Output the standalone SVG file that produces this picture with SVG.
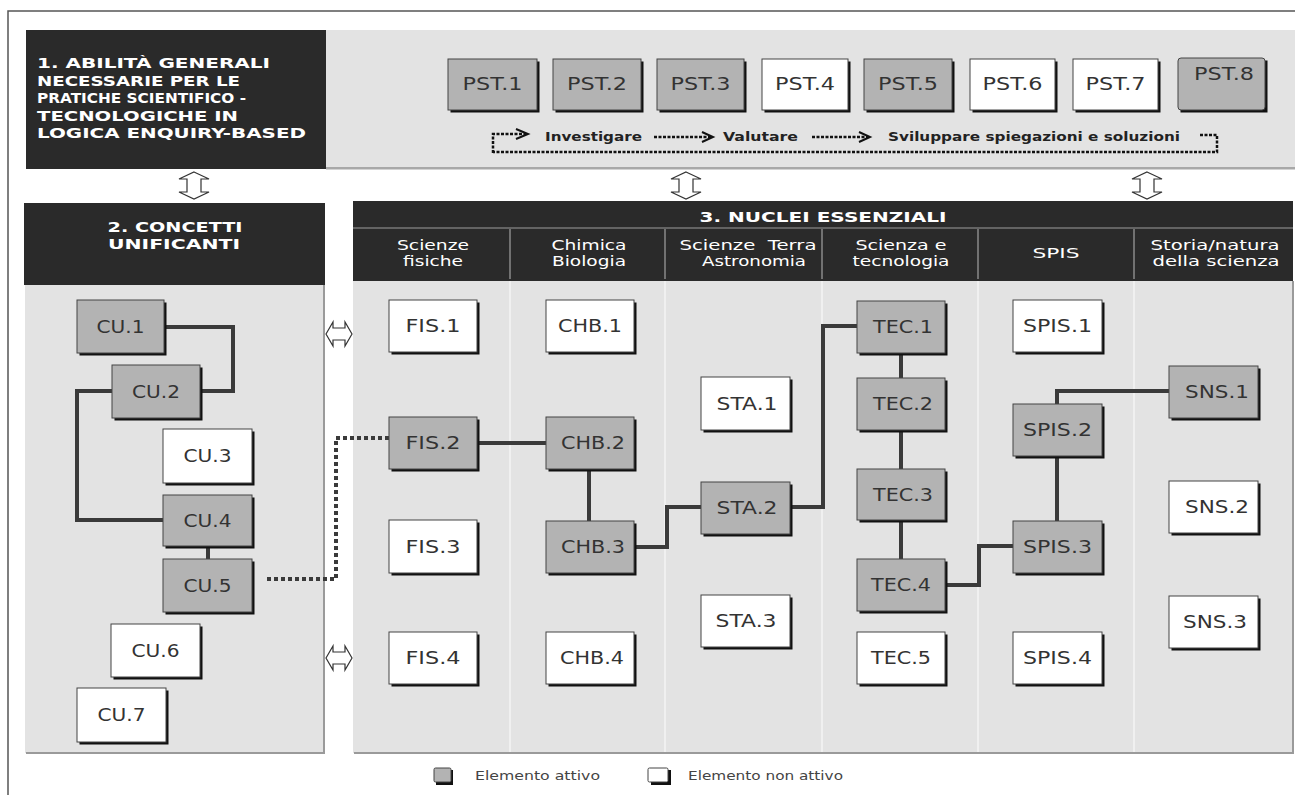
<svg xmlns="http://www.w3.org/2000/svg" width="1295" height="795" viewBox="0 0 1295 795">
<style>
.frame{stroke:#555;stroke-width:1.5;fill:none}
.dark{fill:#2a2a2a}
.panel{fill:#e3e3e3}
.hd{font-family:"DejaVu Sans",Verdana,sans-serif;font-weight:bold;fill:#fff;font-size:14.5px}
.sub{font-family:"DejaVu Sans",Verdana,sans-serif;fill:#fff;font-size:14px;text-anchor:middle}
.flow{font-family:"DejaVu Sans",Verdana,sans-serif;font-weight:bold;fill:#222;font-size:13px}
.leg{font-family:"DejaVu Sans",Verdana,sans-serif;fill:#444;font-size:11.5px}
.sh{fill:#111}
.a{fill:#b3b3b3;stroke:#444;stroke-width:1}
.i{fill:#fff;stroke:#444;stroke-width:1}
.lbl{font-family:"DejaVu Sans",Verdana,sans-serif;fill:#333;font-size:17px;text-anchor:middle}
.con{fill:none;stroke:#3a3a3a;stroke-width:4}
.dot{fill:none;stroke:#3a3a3a;stroke-width:4;stroke-dasharray:4 3}
.fl{fill:none;stroke:#111;stroke-width:2.5;stroke-dasharray:3 1.5}
.dbl{fill:#fff;stroke:#333;stroke-width:1.2}
.colb{stroke:#f4f4f4;stroke-width:1.5}
.colh{stroke:#8a8a8a;stroke-width:1.5}
</style>

<!-- outer frame -->
<path class="frame" d="M8,795 V11 H1295"/>

<!-- section 1 -->
<g id="sec1">
<rect class="panel" x="326" y="30" width="969" height="138"/>
<rect x="326" y="167" width="969" height="2.5" fill="#a8a8a8"/>
<rect class="dark" x="26" y="30" width="300" height="139"/>
<text class="hd" x="37" y="68" textLength="233" lengthAdjust="spacingAndGlyphs">1. ABILITÀ GENERALI</text>
<text class="hd" x="37" y="85.5" textLength="203" lengthAdjust="spacingAndGlyphs">NECESSARIE PER LE</text>
<text class="hd" x="37" y="103" textLength="209" lengthAdjust="spacingAndGlyphs">PRATICHE SCIENTIFICO -</text>
<text class="hd" x="37" y="120.5" textLength="201" lengthAdjust="spacingAndGlyphs">TECNOLOGICHE IN</text>
<text class="hd" x="37" y="138" textLength="269" lengthAdjust="spacingAndGlyphs">LOGICA ENQUIRY-BASED</text>
</g>

<!-- flow line -->
<g id="flow">
<path class="fl" d="M493,153 V134 H526"/>
<path d="M516,129 L528,134 L516,139" fill="none" stroke="#111" stroke-width="2"/>
<text class="flow" x="545" y="141" textLength="97" lengthAdjust="spacingAndGlyphs">Investigare</text>
<path class="fl" d="M654,137 H711"/>
<path d="M702,132 L713,137 L702,142" fill="none" stroke="#111" stroke-width="2"/>
<text class="flow" x="723" y="141" textLength="75" lengthAdjust="spacingAndGlyphs">Valutare</text>
<path class="fl" d="M812,137 H868"/>
<path d="M859,132 L870,137 L859,142" fill="none" stroke="#111" stroke-width="2"/>
<text class="flow" x="888" y="141" textLength="292" lengthAdjust="spacingAndGlyphs">Sviluppare spiegazioni e soluzioni</text>
<path class="fl" d="M1200,135 H1217 V152 H493"/>
</g>

<!-- section 2 -->
<g id="sec2">
<rect class="panel" x="25" y="285" width="299" height="468"/>
<path d="M324,285 V753 H26" fill="none" stroke="#9a9a9a" stroke-width="2"/>
<rect class="dark" x="24" y="203" width="301" height="82"/>
<text class="hd" x="175" y="232" text-anchor="middle" textLength="135" lengthAdjust="spacingAndGlyphs">2. CONCETTI</text>
<text class="hd" x="174" y="249" text-anchor="middle" textLength="132" lengthAdjust="spacingAndGlyphs">UNIFICANTI</text>
</g>

<!-- section 3 -->
<g id="sec3">
<rect class="panel" x="353" y="281" width="940" height="472"/>
<path d="M1293,281 V753 H354" fill="none" stroke="#9a9a9a" stroke-width="2"/>
<line class="colb" x1="510" y1="281" x2="510" y2="752"/>
<line class="colb" x1="665" y1="281" x2="665" y2="752"/>
<line class="colb" x1="822" y1="281" x2="822" y2="752"/>
<line class="colb" x1="978" y1="281" x2="978" y2="752"/>
<line class="colb" x1="1134" y1="281" x2="1134" y2="752"/>
<rect class="dark" x="353" y="201" width="940" height="80"/>
<line x1="353" y1="228" x2="1293" y2="228" stroke="#777" stroke-width="1.5"/>
<line class="colh" x1="510" y1="229" x2="510" y2="279"/>
<line class="colh" x1="665" y1="229" x2="665" y2="279"/>
<line class="colh" x1="822" y1="229" x2="822" y2="279"/>
<line class="colh" x1="978" y1="229" x2="978" y2="279"/>
<line class="colh" x1="1134" y1="229" x2="1134" y2="279"/>
<text class="hd" x="823" y="222" text-anchor="middle" textLength="247" lengthAdjust="spacingAndGlyphs">3. NUCLEI ESSENZIALI</text>
<text class="sub" x="433" y="250" textLength="72" lengthAdjust="spacingAndGlyphs">Scienze</text>
<text class="sub" x="433" y="266" textLength="60" lengthAdjust="spacingAndGlyphs">fisiche</text>
<text class="sub" x="589" y="250" textLength="75" lengthAdjust="spacingAndGlyphs">Chimica</text>
<text class="sub" x="589" y="266" textLength="74" lengthAdjust="spacingAndGlyphs">Biologia</text>
<text class="sub" x="748" y="250" textLength="137" lengthAdjust="spacingAndGlyphs" xml:space="preserve">Scienze  Terra</text>
<text class="sub" x="754" y="266" textLength="104" lengthAdjust="spacingAndGlyphs">Astronomia</text>
<text class="sub" x="901" y="250" textLength="91" lengthAdjust="spacingAndGlyphs">Scienza e</text>
<text class="sub" x="901" y="266" textLength="97" lengthAdjust="spacingAndGlyphs">tecnologia</text>
<text class="sub" x="1056" y="258" textLength="47" lengthAdjust="spacingAndGlyphs">SPIS</text>
<text class="sub" x="1215" y="250" textLength="129" lengthAdjust="spacingAndGlyphs">Storia/natura</text>
<text class="sub" x="1216" y="266" textLength="127" lengthAdjust="spacingAndGlyphs">della scienza</text>
</g>

<!-- double arrows -->
<g id="arrows">
<path class="dbl" d="M194,172 L209,179 L201,179 L201,192 L209,192 L194,199 L179,192 L187,192 L187,179 L179,179 Z"/>
<path class="dbl" d="M686,172 L701,179 L693,179 L693,192 L701,192 L686,199 L671,192 L679,192 L679,179 L671,179 Z"/>
<path class="dbl" d="M1147,172 L1162,179 L1154,179 L1154,192 L1162,192 L1147,199 L1132,192 L1140,192 L1140,179 L1132,179 Z"/>
<path class="dbl" d="M326,334 L333,322 L333,328 L345,328 L345,322 L352,334 L345,346 L345,340 L333,340 L333,346 Z"/>
<path class="dbl" d="M326,658 L333,646 L333,652 L345,652 L345,646 L352,658 L345,670 L345,664 L333,664 L333,670 Z"/>
</g>

<!-- connectors -->
<g id="connectors">
<path class="con" d="M164,327 H233 V391 H200"/>
<path class="con" d="M112,391 H77 V520 H163"/>
<path class="con" d="M208,546 V559"/>
<path class="dot" d="M267,579 H336 V438 H402"/>
<path class="con" d="M477,443 H546"/>
<path class="con" d="M589,469 V521"/>
<path class="con" d="M634,547 H667 V507 H701"/>
<path class="con" d="M790,507 H823 V326 H857"/>
<path class="con" d="M901,353 V378 M901,430 V469 M901,520 V559"/>
<path class="con" d="M945,585 H979 V546 H1013"/>
<path class="con" d="M1057,456 V521"/>
<path class="con" d="M1057,404 V391 H1169"/>
</g>

<!-- PST nodes -->
<g id="PST1"><rect class="sh" x="450.5" y="61.5" width="89" height="51"/><rect class="a" x="448" y="59" width="89" height="51"/><text class="lbl" x="492.5" y="90" textLength="60" lengthAdjust="spacingAndGlyphs">PST.1</text></g>
<g id="PST2"><rect class="sh" x="555.5" y="61.5" width="88" height="51"/><rect class="a" x="553" y="59" width="88" height="51"/><text class="lbl" x="597" y="90" textLength="60" lengthAdjust="spacingAndGlyphs">PST.2</text></g>
<g id="PST3"><rect class="sh" x="659.5" y="61.5" width="87" height="51"/><rect class="a" x="657" y="59" width="87" height="51"/><text class="lbl" x="700.5" y="90" textLength="60" lengthAdjust="spacingAndGlyphs">PST.3</text></g>
<g id="PST4"><rect class="sh" x="764.5" y="61.5" width="86" height="51"/><rect class="i" x="762" y="59" width="86" height="51"/><text class="lbl" x="805" y="90" textLength="60" lengthAdjust="spacingAndGlyphs">PST.4</text></g>
<g id="PST5"><rect class="sh" x="866.5" y="61.5" width="88" height="51"/><rect class="a" x="864" y="59" width="88" height="51"/><text class="lbl" x="908" y="90" textLength="60" lengthAdjust="spacingAndGlyphs">PST.5</text></g>
<g id="PST6"><rect class="sh" x="972.5" y="61.5" width="85" height="51"/><rect class="i" x="970" y="59" width="85" height="51"/><text class="lbl" x="1012.5" y="90" textLength="60" lengthAdjust="spacingAndGlyphs">PST.6</text></g>
<g id="PST7"><rect class="sh" x="1075.5" y="61.5" width="85" height="51"/><rect class="i" x="1073" y="59" width="85" height="51"/><text class="lbl" x="1115.5" y="90" textLength="60" lengthAdjust="spacingAndGlyphs">PST.7</text></g>
<g id="PST8"><rect class="sh" x="1180.5" y="60.5" width="87" height="52"/><rect class="a" x="1178" y="58" width="87" height="52" rx="3"/><text class="lbl" x="1224" y="80" textLength="60" lengthAdjust="spacingAndGlyphs">PST.8</text></g>

<!-- CU nodes -->
<g id="CU1"><rect class="sh" x="79.5" y="302.5" width="87" height="53"/><rect class="a" x="77" y="300" width="87" height="53"/><text class="lbl" x="120.5" y="332.5" textLength="48" lengthAdjust="spacingAndGlyphs">CU.1</text></g>
<g id="CU2"><rect class="sh" x="114.5" y="367.5" width="88" height="53"/><rect class="a" x="112" y="365" width="88" height="53"/><text class="lbl" x="156" y="397.5" textLength="48" lengthAdjust="spacingAndGlyphs">CU.2</text></g>
<g id="CU3"><rect class="sh" x="165.5" y="431.5" width="89" height="54"/><rect class="i" x="163" y="429" width="89" height="54"/><text class="lbl" x="207.5" y="462" textLength="48" lengthAdjust="spacingAndGlyphs">CU.3</text></g>
<g id="CU4"><rect class="sh" x="165.5" y="497.5" width="89" height="51"/><rect class="a" x="163" y="495" width="89" height="51"/><text class="lbl" x="207.5" y="526.5" textLength="48" lengthAdjust="spacingAndGlyphs">CU.4</text></g>
<g id="CU5"><rect class="sh" x="165.5" y="561.5" width="89" height="53"/><rect class="a" x="163" y="559" width="89" height="53"/><text class="lbl" x="207.5" y="591.5" textLength="48" lengthAdjust="spacingAndGlyphs">CU.5</text></g>
<g id="CU6"><rect class="sh" x="113.5" y="626.5" width="89" height="53"/><rect class="i" x="111" y="624" width="89" height="53"/><text class="lbl" x="155.5" y="656.5" textLength="48" lengthAdjust="spacingAndGlyphs">CU.6</text></g>
<g id="CU7"><rect class="sh" x="79.5" y="690.5" width="89" height="54"/><rect class="i" x="77" y="688" width="89" height="54"/><text class="lbl" x="121.5" y="721" textLength="48" lengthAdjust="spacingAndGlyphs">CU.7</text></g>

<!-- FIS -->
<g id="FIS1"><rect class="sh" x="391.5" y="302.5" width="88" height="52"/><rect class="i" x="389" y="300" width="88" height="52"/><text class="lbl" x="433" y="332" textLength="55" lengthAdjust="spacingAndGlyphs">FIS.1</text></g>
<g id="FIS2"><rect class="sh" x="391.5" y="419.5" width="88" height="52"/><rect class="a" x="389" y="417" width="88" height="52"/><text class="lbl" x="433" y="449" textLength="55" lengthAdjust="spacingAndGlyphs">FIS.2</text></g>
<g id="FIS3"><rect class="sh" x="391.5" y="522.5" width="88" height="53"/><rect class="i" x="389" y="520" width="88" height="53"/><text class="lbl" x="433" y="552.5" textLength="55" lengthAdjust="spacingAndGlyphs">FIS.3</text></g>
<g id="FIS4"><rect class="sh" x="391.5" y="634.5" width="88" height="52"/><rect class="i" x="389" y="632" width="88" height="52"/><text class="lbl" x="433" y="664" textLength="55" lengthAdjust="spacingAndGlyphs">FIS.4</text></g>

<!-- CHB -->
<g id="CHB1"><rect class="sh" x="548.5" y="302.5" width="88" height="52"/><rect class="i" x="546" y="300" width="88" height="52"/><text class="lbl" x="590" y="332" textLength="64" lengthAdjust="spacingAndGlyphs">CHB.1</text></g>
<g id="CHB2"><rect class="sh" x="548.5" y="419.5" width="88" height="52"/><rect class="a" x="546" y="417" width="88" height="52"/><text class="lbl" x="593" y="449" textLength="64" lengthAdjust="spacingAndGlyphs">CHB.2</text></g>
<g id="CHB3"><rect class="sh" x="548.5" y="523.5" width="88" height="52"/><rect class="a" x="546" y="521" width="88" height="52"/><text class="lbl" x="593" y="553" textLength="64" lengthAdjust="spacingAndGlyphs">CHB.3</text></g>
<g id="CHB4"><rect class="sh" x="548.5" y="634.5" width="88" height="52"/><rect class="i" x="546" y="632" width="88" height="52"/><text class="lbl" x="592" y="664" textLength="64" lengthAdjust="spacingAndGlyphs">CHB.4</text></g>

<!-- STA -->
<g id="STA1"><rect class="sh" x="703.5" y="379.5" width="89" height="53"/><rect class="i" x="701" y="377" width="89" height="53"/><text class="lbl" x="747" y="409.5" textLength="61" lengthAdjust="spacingAndGlyphs">STA.1</text></g>
<g id="STA2"><rect class="sh" x="703.5" y="484.5" width="89" height="52"/><rect class="a" x="701" y="482" width="89" height="52"/><text class="lbl" x="747" y="514" textLength="61" lengthAdjust="spacingAndGlyphs">STA.2</text></g>
<g id="STA3"><rect class="sh" x="703.5" y="597.5" width="89" height="52"/><rect class="i" x="701" y="595" width="89" height="52"/><text class="lbl" x="746" y="627" textLength="61" lengthAdjust="spacingAndGlyphs">STA.3</text></g>

<!-- TEC -->
<g id="TEC1"><rect class="sh" x="859.5" y="303.5" width="88" height="52"/><rect class="a" x="857" y="301" width="88" height="52"/><text class="lbl" x="903" y="333" textLength="60" lengthAdjust="spacingAndGlyphs">TEC.1</text></g>
<g id="TEC2"><rect class="sh" x="859.5" y="380.5" width="88" height="52"/><rect class="a" x="857" y="378" width="88" height="52"/><text class="lbl" x="903" y="410" textLength="60" lengthAdjust="spacingAndGlyphs">TEC.2</text></g>
<g id="TEC3"><rect class="sh" x="859.5" y="471.5" width="88" height="51"/><rect class="a" x="857" y="469" width="88" height="51"/><text class="lbl" x="903" y="500.5" textLength="60" lengthAdjust="spacingAndGlyphs">TEC.3</text></g>
<g id="TEC4"><rect class="sh" x="859.5" y="561.5" width="88" height="52"/><rect class="a" x="857" y="559" width="88" height="52"/><text class="lbl" x="901" y="591" textLength="60" lengthAdjust="spacingAndGlyphs">TEC.4</text></g>
<g id="TEC5"><rect class="sh" x="859.5" y="634.5" width="88" height="52"/><rect class="i" x="857" y="632" width="88" height="52"/><text class="lbl" x="901" y="664" textLength="60" lengthAdjust="spacingAndGlyphs">TEC.5</text></g>

<!-- SPIS -->
<g id="SPIS1"><rect class="sh" x="1015.5" y="302.5" width="89" height="52"/><rect class="i" x="1013" y="300" width="89" height="52"/><text class="lbl" x="1057.5" y="332" textLength="69" lengthAdjust="spacingAndGlyphs">SPIS.1</text></g>
<g id="SPIS2"><rect class="sh" x="1015.5" y="406.5" width="89" height="52"/><rect class="a" x="1013" y="404" width="89" height="52"/><text class="lbl" x="1057.5" y="436" textLength="69" lengthAdjust="spacingAndGlyphs">SPIS.2</text></g>
<g id="SPIS3"><rect class="sh" x="1015.5" y="523.5" width="89" height="52"/><rect class="a" x="1013" y="521" width="89" height="52"/><text class="lbl" x="1057.5" y="553" textLength="69" lengthAdjust="spacingAndGlyphs">SPIS.3</text></g>
<g id="SPIS4"><rect class="sh" x="1015.5" y="634.5" width="89" height="52"/><rect class="i" x="1013" y="632" width="89" height="52"/><text class="lbl" x="1057.5" y="664" textLength="69" lengthAdjust="spacingAndGlyphs">SPIS.4</text></g>

<!-- SNS -->
<g id="SNS1"><rect class="sh" x="1171.5" y="368.5" width="89" height="52"/><rect class="a" x="1169" y="366" width="89" height="52"/><text class="lbl" x="1217" y="398" textLength="64" lengthAdjust="spacingAndGlyphs">SNS.1</text></g>
<g id="SNS2"><rect class="sh" x="1171.5" y="483.5" width="89" height="52"/><rect class="i" x="1169" y="481" width="89" height="52"/><text class="lbl" x="1217" y="513" textLength="64" lengthAdjust="spacingAndGlyphs">SNS.2</text></g>
<g id="SNS3"><rect class="sh" x="1171.5" y="598.5" width="89" height="52"/><rect class="i" x="1169" y="596" width="89" height="52"/><text class="lbl" x="1215" y="628" textLength="64" lengthAdjust="spacingAndGlyphs">SNS.3</text></g>

<!-- legend -->
<g id="legend">
<rect class="sh" x="436" y="770" width="17" height="15"/><rect class="a" x="434" y="768" width="17" height="14" rx="1.5"/>
<text class="leg" x="475" y="780" textLength="125" lengthAdjust="spacingAndGlyphs">Elemento attivo</text>
<rect class="sh" x="651" y="770" width="20" height="15"/><rect class="i" x="648" y="768" width="20" height="14" rx="1.5"/>
<text class="leg" x="688" y="780" textLength="155" lengthAdjust="spacingAndGlyphs">Elemento non attivo</text>
</g>
</svg>
